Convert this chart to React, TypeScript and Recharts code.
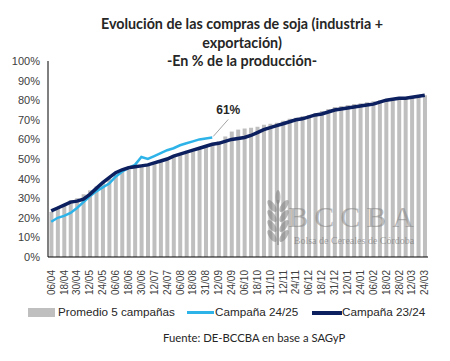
import { ComposedChart, Bar, Line, XAxis, YAxis, LabelList } from "recharts";

const fechas = [
  "06/04", "12/04", "18/04", "24/04", "30/04",
  "06/05", "12/05", "18/05", "24/05", "31/05",
  "06/06", "12/06", "18/06", "24/06", "30/06",
  "06/07", "12/07", "18/07", "24/07", "31/07",
  "06/08", "12/08", "18/08", "24/08", "31/08",
  "06/09", "12/09", "18/09", "24/09", "30/09",
  "06/10", "12/10", "18/10", "24/10", "31/10",
  "06/11", "12/11", "18/11", "24/11", "30/11",
  "06/12", "12/12", "18/12", "24/12", "31/12",
  "06/01", "12/01", "18/01", "24/01", "31/01",
  "06/02", "12/02", "18/02", "24/02", "28/02",
  "06/03", "12/03", "18/03", "24/03",
];

const promedio5 = [
  23, 25, 27, 29, 30, 32, 34, 36, 38, 40,
  42, 43.5, 44.5, 45.5, 46.5, 47, 48, 49, 50, 51,
  52, 53, 54, 55, 56.5, 57.5, 59, 61.5, 64, 65,
  65.5, 66, 66.5, 67.5, 68, 68.5, 69.5, 70.5, 71, 72,
  72.5, 73.5, 74.5, 75.5, 76.5, 77, 77.5, 78, 78.5, 79,
  79.5, 80, 80.5, 81, 81, 81.5, 81.5, 82, 82.5,
];

const campana2425 = [
  18, 20, 21, 22.5, 25, 28, 31, 33.5, 35.5, 37.5,
  41, 43.5, 45.5, 47, 51, 50, 51.5, 53, 54.5, 55.5,
  57, 58, 59, 60, 60.5, 61,
];

const campana2324 = [
  23.5, 25, 26.5, 28, 28.5, 29.5, 32, 35, 38, 40.5,
  43, 44.5, 45.5, 46, 46.5, 47, 48, 49, 50, 51.5,
  52.5, 53.5, 54.5, 55.5, 56.5, 57.5, 58, 59, 60, 60.5,
  61, 62, 63.5, 65, 66, 67, 68, 69, 70, 70.5,
  71.5, 72.5, 73, 74, 75, 75.5, 76, 76.5, 77, 77.5,
  78, 79, 80, 80.5, 81, 81, 81.5, 82, 82.5,
];

const yTicks = [0, 10, 20, 30, 40, 50, 60, 70, 80, 90, 100];

const data = fechas.map((d, i) => ({
  d,
  prom: promedio5[i],
  c2425: campana2425[i],
  c2324: campana2324[i],
}));

const GRIS = "#BFBFBF";
const CELESTE = "#2DB3E8";
const AZUL = "#0C1F5E";
const axisFont = "'Liberation Sans', Arial, sans-serif";

function DateTick(props: any) {
  const { x, y, payload } = props;
  return (
    <text
      x={x}
      y={y + 5}
      transform={`rotate(-90, ${x}, ${y + 5})`}
      textAnchor="end"
      dominantBaseline="central"
      fontSize={10}
      fontFamily={axisFont}
      fill="#404040"
    >
      {payload.value}
    </text>
  );
}

function LastLabel(props: any) {
  const { x, y, index } = props;
  if (index !== campana2425.length - 1) return null;
  return (
    <g>
      <line x1={x + 1} y1={y - 1} x2={x + 16} y2={y - 18} stroke="#8c8c8c" strokeWidth={0.8} />
      <text x={x + 16} y={y - 23} textAnchor="middle" fontSize={12} fontWeight={700}
        fontFamily={axisFont} fill="#262626">
        61%
      </text>
    </g>
  );
}

function Watermark() {
  return (
    <svg width={450} height={361} style={{ position: "absolute", left: 0, top: 0, pointerEvents: "none" }}>
      <g fill="rgba(130,130,130,0.55)">
        <rect x={277} y={200} width={2} height={45} />
        {[0, 1, 2, 3].map((k) => (
          <g key={k}>
            <ellipse cx={272} cy={206 + k * 10} rx={3} ry={7} transform={`rotate(-35, 272, ${206 + k * 10})`} />
            <ellipse cx={284} cy={206 + k * 10} rx={3} ry={7} transform={`rotate(35, 284, ${206 + k * 10})`} />
          </g>
        ))}
        <ellipse cx={278} cy={197} rx={2.5} ry={7} />
      </g>
      <text x={354} y={227} textAnchor="middle" fontSize={30} letterSpacing={6}
        fontFamily="'Liberation Serif', 'DejaVu Serif', serif" fill="rgba(130,130,130,0.55)">
        BCCBA
      </text>
      <text x={354} y={244} textAnchor="middle" fontSize={10}
        fontFamily="'Liberation Serif', 'DejaVu Serif', serif" fill="rgba(110,110,110,0.6)">
        Bolsa de Cereales de Córdoba
      </text>
    </svg>
  );
}

export default function App() {
  return (
    <div style={{ position: "absolute", left: 0, top: 0, width: 450, height: 361, background: "#fff", overflow: "hidden" }}>
      <div style={{
        position: "absolute", top: 15, left: 0, width: 484, textAlign: "center",
        fontFamily: "Lato, 'Open Sans', sans-serif", fontWeight: 700, fontSize: 14.3,
        lineHeight: "18.5px", color: "#262626",
      }}>
        Evolución de las compras de soja (industria +<br />exportación)<br />-En % de la producción-
      </div>
      <div style={{ position: "absolute", left: 0, top: 0 }}>
        <ComposedChart width={450} height={300} data={data}
          margin={{ top: 61, right: 22, left: 0, bottom: 0 }} barCategoryGap="22%">
          <XAxis dataKey="d" interval={1} tick={<DateTick />} tickLine={false}
            axisLine={{ stroke: "#000", strokeWidth: 1 }} height={43} />
          <YAxis domain={[0, 100]} ticks={yTicks} tickFormatter={(v: number) => `${v}%`}
            width={48} tickLine={false} axisLine={{ stroke: "#000", strokeWidth: 1 }}
            tick={{ fontSize: 11, fontFamily: axisFont, fill: "#404040" }} />
          <Bar dataKey="prom" fill={GRIS} isAnimationActive={false} />
          <Line dataKey="c2425" stroke={CELESTE} strokeWidth={2.5} dot={false} isAnimationActive={false}>
            <LabelList dataKey="c2425" content={<LastLabel />} />
          </Line>
          <Line dataKey="c2324" stroke={AZUL} strokeWidth={3.5} dot={false} isAnimationActive={false} />
        </ComposedChart>
      </div>
      <Watermark />
      <div style={{ position: "absolute", top: 305, left: 0, width: 450, height: 16, fontFamily: axisFont, fontSize: 11.7, color: "#262626" }}>
        <div style={{ position: "absolute", left: 28, top: 3, width: 27, height: 9, background: GRIS }} />
        <span style={{ position: "absolute", left: 58, top: 0 }}>Promedio 5 campañas</span>
        <div style={{ position: "absolute", left: 187, top: 6, width: 27, height: 3, background: CELESTE }} />
        <span style={{ position: "absolute", left: 215, top: 0 }}>Campaña 24/25</span>
        <div style={{ position: "absolute", left: 312, top: 6, width: 30, height: 4, background: AZUL }} />
        <span style={{ position: "absolute", left: 342, top: 0 }}>Campaña 23/24</span>
      </div>
      <div style={{
        position: "absolute", top: 331, left: 163, fontFamily: "Lato, 'Open Sans', sans-serif",
        fontSize: 11.3, color: "#262626",
      }}>
        Fuente: DE-BCCBA en base a SAGyP
      </div>
    </div>
  );
}
